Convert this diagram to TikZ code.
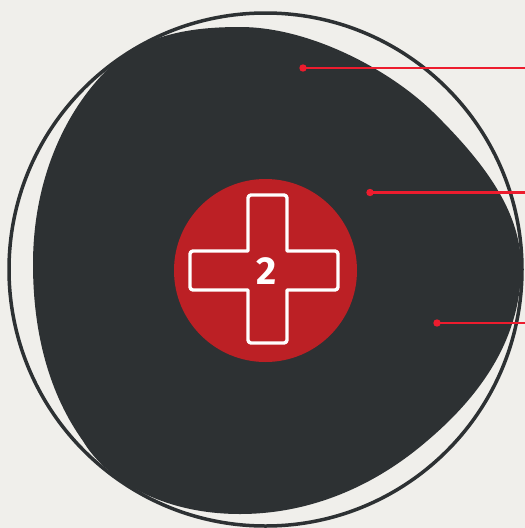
\documentclass[tikz,border=0pt]{standalone}
\usepackage{fontspec}
\usepackage{xcolor}
\usepackage{tikz}
\usetikzlibrary{positioning, calc}
\setsansfont{Fira Sans}
\definecolor{paperbg}{HTML}{F0EFEB}
\definecolor{discdark}{HTML}{2D3133}
\definecolor{badgered}{HTML}{BC2025}
\definecolor{leaderred}{HTML}{ED1C2E}

\begin{document}
\begin{tikzpicture}[x=1pt,y=-1pt,
    leader/.style={leaderred,line width=2.1pt},
    crossline/.style={white,line width=3.4pt,line join=round}]
  % Canvas, same size as the reference
  \fill[paperbg] (0,0) rectangle (525,528);
  \useasboundingbox (0,0) rectangle (525,528);

  % Dark blob, touches the ring upper left, lower left and on the right
  \fill[discdark] (240,27)
    .. controls (310,27) and (390,70) .. (433,112)
    .. controls (488,166) and (521,214) .. (521,267)
    .. controls (521,328) and (492,386) .. (427,441)
    .. controls (370,490) and (305,514) .. (240,514)
    .. controls (160,514) and (105,478) .. (83,441)
    .. controls (50,395) and (33,335) .. (33,264)
    .. controls (33,180) and (65,110) .. (110,67)
    .. controls (145,33) and (195,27) .. (240,27) -- cycle;

  % Thin ring around the blob
  \coordinate (ringcentre) at (265.5,269.5);
  \def\ringradius{256.5}
  \draw[discdark,line width=3.5pt] (ringcentre) circle (\ringradius);

  % Red badge
  \coordinate (badgecentre) at (265.5,270.5);
  \fill[badgered] (badgecentre) circle (91.5);

  % Cross outline, only the outer corners are rounded
  \draw[crossline] (248,251) [rounded corners=3pt] -- (248,195) -- (287,195)
    [sharp corners] -- (287,251) [rounded corners=3pt] -- (338,251) -- (338,290)
    [sharp corners] -- (287,290) [rounded corners=3pt] -- (287,343) -- (248,343)
    [sharp corners] -- (248,290) [rounded corners=3pt] -- (190,290) -- (190,251)
    [sharp corners] -- cycle;
  \node[white,font=\sffamily\bfseries\fontsize{39}{39}\selectfont,inner sep=0pt] (badgenum) at (266.5,271) {2};

  % Leader lines, dot to the right edge
  \coordinate (topdot) at (303,68);
  \coordinate (middot) at (370,192.5);
  \coordinate (lowdot) at (437,323);
  \coordinate (topend) at (525,68);
  \coordinate (midend) at (525,192.5);
  \coordinate (lowend) at (525,323);
  \fill[leaderred] (topdot) circle (3.7);
  \fill[leaderred] (middot) circle (3.7);
  \fill[leaderred] (lowdot) circle (3.7);
  \draw[leader] (topdot) -- (topend);
  \draw[leader] (middot) -- (midend);
  \draw[leader] (lowdot) -- (lowend);
\end{tikzpicture}
\end{document}
